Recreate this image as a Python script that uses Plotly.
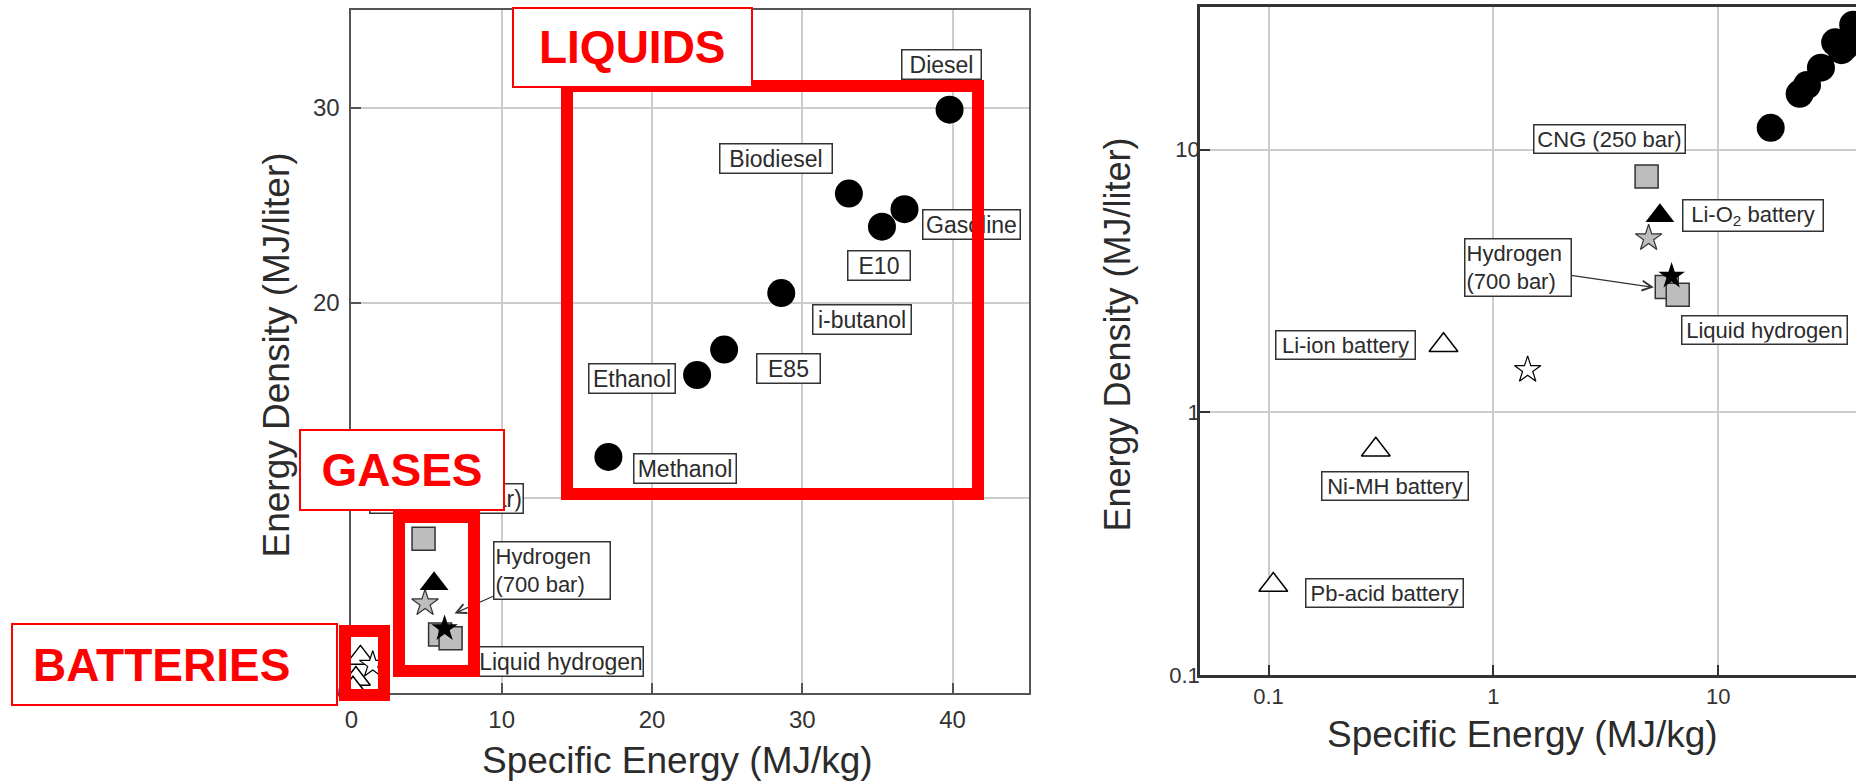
import numpy as np
import plotly.graph_objects as go

W, H = 1856, 781

# ---------------- data (Specific Energy MJ/kg, Energy Density MJ/liter) ----------------
liquid_names = ["Diesel", "Biodiesel", "Gasoline", "E10", "i-butanol", "E85", "Ethanol", "Methanol"]
liquid_se = [39.8, 33.1, 36.8, 35.3, 28.6, 24.8, 23.0, 17.1]
liquid_ed = [29.9, 25.6, 24.8, 23.9, 20.5, 17.6, 16.3, 12.1]

cng_names = ["CNG (250 bar)"]
cng_se = [4.8]
cng_ed = [7.9]

greystar_names = ["Compressed gas (grey star)"]
greystar_se = [4.9]
greystar_ed = [4.6]

lio2_names = ["Li-O2 battery"]
lio2_se = [5.5]
lio2_ed = [5.6]

h2sq_names = ["Hydrogen (tank)", "Liquid hydrogen"]
h2sq_se = [5.9, 6.6]
h2sq_ed = [3.0, 2.8]

h2_700_names = ["Hydrogen (700 bar)"]
h2_700_se = [6.2]
h2_700_ed = [3.3]

battery_names = ["Li-ion battery", "Ni-MH battery", "Pb-acid battery"]
battery_se = [0.6, 0.3, 0.105]
battery_ed = [1.8, 0.72, 0.22]

openstar_names = ["Battery (open star)"]
openstar_se = [1.42]
openstar_ed = [1.45]

left_xticks = [0, 10, 20, 30, 40]
left_yticks = [0, 10, 20, 30]
log_ticks = [0.1, 1, 10]
log_ticktext = ["0.1", "1", "10"]

# label texts and anchor points (data units)
left_label_text = ["Diesel", "Biodiesel", "Gasoline", "E10", "i-butanol", "E85", "Ethanol", "Methanol",
                   "CNG (250 bar)", "Liquid hydrogen"]
left_label_x = [39.28, 28.24, 41.27, 35.12, 33.95, 29.07, 18.65, 22.20, 6.33, 13.93]
left_label_y = [32.21, 27.38, 24.02, 21.91, 19.14, 16.62, 16.10, 11.52, 9.98, 1.64]

right_label_text = ["CNG (250 bar)", "Li-O<sub>2</sub> battery", "Liquid hydrogen", "Li-ion battery",
                    "Ni-MH battery", "Pb-acid battery"]
right_label_x = [3.273, 14.31, 16.1, 0.22, 0.365, 0.3275]
right_label_y = [10.94, 5.62, 2.058, 1.807, 0.523, 0.2056]

h2_label_text = "Hydrogen<br>(700 bar)"
left_h2_label = (13.35, 6.3)
left_h2_tip = (6.86, 4.08)
right_h2_label = (1.285, 3.549)
right_h2_tip = (5.17, 2.99)

# ---------------- style / layout constants ----------------
FONT = "Arial, 'Liberation Sans', sans-serif"
TXT = "#2b2b2b"
left_label_w = [80, 113, 98, 63, 99, 64, 87, 103, 154, 165]
right_label_w = [152, 141, 166, 140, 147, 158]

fig = go.Figure()


def add_points(xa, ya):
    fig.add_trace(go.Scatter(x=liquid_se, y=liquid_ed, text=liquid_names, mode="markers", xaxis=xa, yaxis=ya,
                             marker=dict(symbol="circle", size=28, color="black", line=dict(width=0)),
                             cliponaxis=False))
    fig.add_trace(go.Scatter(x=cng_se, y=cng_ed, text=cng_names, mode="markers", xaxis=xa, yaxis=ya,
                             marker=dict(symbol="square", size=23, color="#bdbdbd", line=dict(width=1.5, color="#333")),
                             cliponaxis=False))
    fig.add_trace(go.Scatter(x=greystar_se, y=greystar_ed, text=greystar_names, mode="markers", xaxis=xa, yaxis=ya,
                             marker=dict(symbol="star", size=20, color="#bdbdbd", line=dict(width=1.2, color="#333")),
                             cliponaxis=False))
    fig.add_trace(go.Scatter(x=lio2_se, y=lio2_ed, text=lio2_names, mode="markers", xaxis=xa, yaxis=ya,
                             marker=dict(symbol="triangle-up", size=25, color="black", line=dict(width=0)),
                             cliponaxis=False))
    fig.add_trace(go.Scatter(x=h2sq_se, y=h2sq_ed, text=h2sq_names, mode="markers", xaxis=xa, yaxis=ya,
                             marker=dict(symbol="square", size=23, color="#bdbdbd", line=dict(width=1.5, color="#333")),
                             cliponaxis=False))
    fig.add_trace(go.Scatter(x=h2_700_se, y=h2_700_ed, text=h2_700_names, mode="markers", xaxis=xa, yaxis=ya,
                             marker=dict(symbol="star", size=20, color="black", line=dict(width=0)),
                             cliponaxis=False))
    fig.add_trace(go.Scatter(x=battery_se, y=battery_ed, text=battery_names, mode="markers", xaxis=xa, yaxis=ya,
                             marker=dict(symbol="triangle-up", size=25, color="white", line=dict(width=1.5, color="black")),
                             cliponaxis=False))
    fig.add_trace(go.Scatter(x=openstar_se, y=openstar_ed, text=openstar_names, mode="markers", xaxis=xa, yaxis=ya,
                             marker=dict(symbol="star", size=20, color="white", line=dict(width=1.2, color="black")),
                             cliponaxis=False))


add_points("x", "y")
add_points("x2", "y2")

# plot-area geometry in pixels
L_left, L_right, L_top, L_bot = 351.4, 1029.0, 10.0, 693.0
R_left, R_right, R_top, R_bot = 1200.0, 1856.0, 6.7, 675.0

axis_common = dict(showgrid=True, gridcolor="#cccccc", gridwidth=1.5, zeroline=False,
                   ticks="inside", ticklen=10, tickwidth=1.5, showline=True, automargin=False)

fig.update_layout(
    width=W, height=H, margin=dict(l=0, r=0, t=0, b=0, pad=0),
    paper_bgcolor="white", plot_bgcolor="white", showlegend=False,
    xaxis=dict(domain=[L_left / W, L_right / W], range=[0, (L_right - L_left) / 15.03],
               tickvals=left_xticks, linecolor="#555", tickcolor="#555", linewidth=2, mirror=True,
               anchor="y", ticklabelstandoff=4, **axis_common,
               tickfont=dict(family=FONT, color="#333", size=24)),
    yaxis=dict(domain=[1 - L_bot / H, 1 - L_top / H], range=[0, (L_bot - L_top) / 19.51],
               tickvals=left_yticks, linecolor="#555", tickcolor="#555", linewidth=2, mirror=True,
               anchor="x", ticklabelstandoff=5, **axis_common,
               tickfont=dict(family=FONT, color="#333", size=24)),
    xaxis2=dict(domain=[R_left / W, 1.0], type="log", range=[-1.3046, 1.6123],
                tickvals=log_ticks, ticktext=log_ticktext, linecolor="#333", tickcolor="#333", linewidth=2.5,
                mirror=True, anchor="y2", **axis_common,
                tickfont=dict(family=FONT, color="#333", size=22)),
    yaxis2=dict(domain=[1 - R_bot / H, 1 - R_top / H], type="log", range=[-1.0, 1.544],
                tickvals=log_ticks, ticktext=log_ticktext, linecolor="#333", tickcolor="#333", linewidth=2.5,
                mirror=False, anchor="x2", ticklabelstandoff=-7, **axis_common,
                tickfont=dict(family=FONT, color="#333", size=22)),
)

ann = []

# ---- point labels, left (linear) chart ----
for t, x, y, w in zip(left_label_text, left_label_x, left_label_y, left_label_w):
    ann.append(dict(text=t, x=x, y=y, xref="x", yref="y", showarrow=False, xanchor="center", yanchor="middle",
                    font=dict(family=FONT, size=23, color=TXT), bgcolor="white", bordercolor="#333",
                    borderwidth=1.5, borderpad=1, width=w - 4))
ann.append(dict(text=h2_label_text, x=left_h2_tip[0], y=left_h2_tip[1], ax=left_h2_label[0], ay=left_h2_label[1],
                xref="x", yref="y", axref="x", ayref="y", showarrow=True, arrowhead=5, arrowsize=1.6,
                arrowwidth=1.2, arrowcolor="#333", align="left",
                font=dict(family=FONT, size=22, color=TXT), bgcolor="white", bordercolor="#333",
                borderwidth=1.5, borderpad=1, width=113))

# ---- point labels, right (log) chart ----
for t, x, y, w in zip(right_label_text, right_label_x, right_label_y, right_label_w):
    ann.append(dict(text=t, x=np.log10(x), y=np.log10(y), xref="x2", yref="y2", showarrow=False,
                    xanchor="center", yanchor="middle",
                    font=dict(family=FONT, size=22, color=TXT), bgcolor="white", bordercolor="#333",
                    borderwidth=1.5, borderpad=1, width=w - 4))
ann.append(dict(text=h2_label_text, x=np.log10(right_h2_tip[0]), y=np.log10(right_h2_tip[1]),
                ax=np.log10(right_h2_label[0]), ay=np.log10(right_h2_label[1]),
                xref="x2", yref="y2", axref="x2", ayref="y2", showarrow=True, arrowhead=5, arrowsize=1.6,
                arrowwidth=1.2, arrowcolor="#333", align="left",
                font=dict(family=FONT, size=22, color=TXT), bgcolor="white", bordercolor="#333",
                borderwidth=1.5, borderpad=1, width=103))

# ---- axis titles ----
ann.append(dict(text="Specific Energy (MJ/kg)", x=677 / W, y=1 - 760 / H, xref="paper", yref="paper",
                showarrow=False, xanchor="center", yanchor="middle", font=dict(family=FONT, size=37, color=TXT)))
ann.append(dict(text="Energy Density (MJ/liter)", x=275.5 / W, y=1 - 355 / H, xref="paper", yref="paper",
                textangle=-90, showarrow=False, xanchor="center", yanchor="middle",
                font=dict(family=FONT, size=37, color=TXT)))
ann.append(dict(text="Specific Energy (MJ/kg)", x=1522 / W, y=1 - 734 / H, xref="paper", yref="paper",
                showarrow=False, xanchor="center", yanchor="middle", font=dict(family=FONT, size=37, color=TXT)))
ann.append(dict(text="Energy Density (MJ/liter)", x=1117 / W, y=1 - 334.5 / H, xref="paper", yref="paper",
                textangle=-90, showarrow=False, xanchor="center", yanchor="middle",
                font=dict(family=FONT, size=36, color=TXT)))

# ---- red group callouts (overlay, pixel geometry) ----
red_title_text = ["LIQUIDS", "GASES", "BATTERIES\u00a0\u00a0"]
red_title_box = [(512.5, 6.7, 240.5, 80.8), (299, 429, 206, 82), (10.7, 623, 327, 83)]
red_frames = [(567, 86.3, 977.5, 494.5), (399, 517.5, 474, 671), (345, 630.5, 383.5, 694.5)]
FRAME_W = 12
for (x0, y0, x1, y1) in red_frames:
    ann.append(dict(text="\u00a0", x=(x0 + x1) / 2 / W, y=1 - (y0 + y1) / 2 / H, xref="paper", yref="paper",
                    showarrow=False, xanchor="center", yanchor="middle",
                    width=(x1 - x0) - FRAME_W, height=(y1 - y0) - FRAME_W,
                    bordercolor="#ff0000", borderwidth=FRAME_W, borderpad=0, bgcolor="rgba(0,0,0,0)",
                    font=dict(size=10)))
for t, (x0, y0, w, h) in zip(red_title_text, red_title_box):
    ann.append(dict(text=t, x=(x0 + w / 2) / W, y=1 - (y0 + h / 2) / H, xref="paper", yref="paper",
                    showarrow=False, xanchor="center", yanchor="middle", width=w - 4, height=h - 4,
                    bordercolor="#ff0000", borderwidth=2, borderpad=0, bgcolor="white",
                    font=dict(family=FONT, size=46, color="#ff0000", weight="bold")))

fig.update_layout(annotations=ann)
fig.write_html("out.html")
